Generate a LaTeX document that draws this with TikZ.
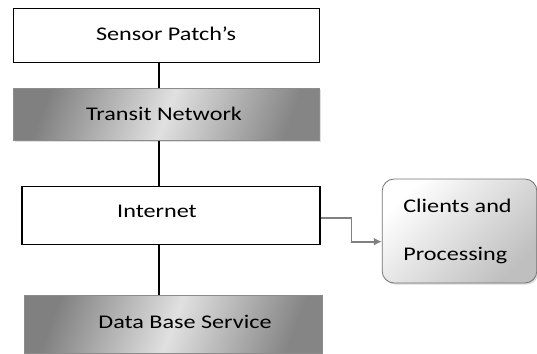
\documentclass[tikz,border=0pt]{standalone}
\usepackage{fontspec}
\setmainfont{Carlito}
\newfontfamily\labelfont[FakeStretch=1.25]{Carlito}
\usetikzlibrary{arrows.meta,shadows}

\tikzset{
    plainbox/.style={draw, line width=0.8pt, fill=white, text=black!85},
    shadebox/.style={draw=black!45, line width=0.6pt, text=black!85,
        left color=black!50, right color=black!48, middle color=black!12,
        shading angle=70, drop shadow={shadow xshift=1pt, shadow yshift=-1pt, opacity=0.25}},
    roundbox/.style={draw=black!55, line width=0.6pt, rounded corners=9pt, text=black!85,
        left color=white, right color=black!25, shading angle=45, align=left,
        drop shadow={shadow xshift=1.2pt, shadow yshift=-1.2pt, opacity=0.3}},
}

\begin{document}
\begin{tikzpicture}[x=0.75pt, y=-0.75pt, font=\labelfont\fontsize{14.5}{18}\selectfont]
    \useasboundingbox (0,0) rectangle (537,354);
    \coordinate (spine) at (159,0);

    \node[plainbox, minimum width=230pt, minimum height=40pt] (sensor) at (166.5,35.5) {};
    \node (sensortxt) at (166,34) {Sensor Patch’s};

    \node[shadebox, minimum width=230pt, minimum height=39pt] (transit) at (166.5,114.5) {};
    \node (transittxt) at (164,114) {Transit Network};

    \node[plainbox, minimum width=223.5pt, minimum height=43pt] (internet) at (171,215.5) {};
    \node (internettxt) at (157,211) {Internet};

    \node[shadebox, minimum width=223.5pt, minimum height=43pt] (database) at (173,324.5) {};
    \node (databasetxt) at (185,322) {Data Base Service};

    \node[roundbox, minimum width=116pt, minimum height=78pt] (clients) at (459.5,231) {};
    \node[anchor=west, align=left, inner sep=0pt] (clientstxt) at (403,231)
        {Clients and\\[18pt]Processing};

    % connectors
    \draw[line width=0.8pt] (spine |- sensor.south) -- (spine |- transit.north);
    \draw[line width=0.8pt] (spine |- transit.south) -- (spine |- internet.north);
    \draw[line width=0.8pt] (spine |- internet.south) -- (spine |- database.north);
    \draw[black!50, line width=1.3pt, -{Latex[length=6pt,width=6pt]}]
        ([yshift=-2pt]internet.east) -- ++(31,0) |- ([yshift=-8pt]clients.west);
\end{tikzpicture}
\end{document}
